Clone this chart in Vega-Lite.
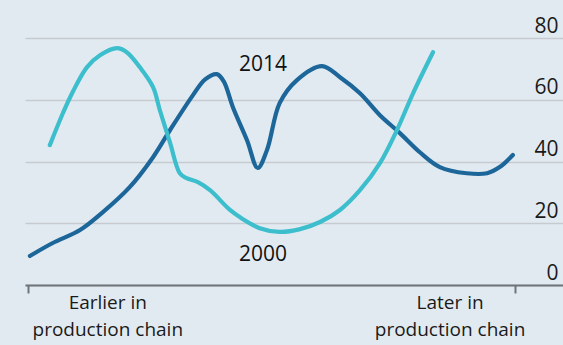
{
  "$schema": "https://vega.github.io/schema/vega-lite/v6.json",
  "width": 538,
  "height": 247,
  "autosize": "none",
  "padding": {"left": 25, "top": 38, "right": 0, "bottom": 60},
  "background": "#e2eaf1",
  "config": {"view": {"stroke": null}, "font": "Open Sans"},
  "datasets": {
    "lines": [
      {"series": "2014", "x": 0.4, "y": 9.4},
      {"series": "2014", "x": 5.1, "y": 13.6},
      {"series": "2014", "x": 10.7, "y": 17.8},
      {"series": "2014", "x": 15.4, "y": 23.6},
      {"series": "2014", "x": 20.9, "y": 31.7},
      {"series": "2014", "x": 25.7, "y": 41.4},
      {"series": "2014", "x": 29.2, "y": 50.2},
      {"series": "2014", "x": 33.9, "y": 61.5},
      {"series": "2014", "x": 36.4, "y": 66.6},
      {"series": "2014", "x": 38.8, "y": 68.3},
      {"series": "2014", "x": 40.2, "y": 66.0},
      {"series": "2014", "x": 42.1, "y": 57.6},
      {"series": "2014", "x": 45.0, "y": 46.9},
      {"series": "2014", "x": 47.2, "y": 37.9},
      {"series": "2014", "x": 49.1, "y": 43.7},
      {"series": "2014", "x": 51.7, "y": 58.9},
      {"series": "2014", "x": 55.2, "y": 66.3},
      {"series": "2014", "x": 60.4, "y": 70.9},
      {"series": "2014", "x": 64.1, "y": 67.3},
      {"series": "2014", "x": 68.2, "y": 62.1},
      {"series": "2014", "x": 72.3, "y": 55.0},
      {"series": "2014", "x": 76.4, "y": 49.2},
      {"series": "2014", "x": 80.5, "y": 43.0},
      {"series": "2014", "x": 84.6, "y": 38.2},
      {"series": "2014", "x": 90.1, "y": 36.2},
      {"series": "2014", "x": 94.3, "y": 36.2},
      {"series": "2014", "x": 96.9, "y": 38.2},
      {"series": "2014", "x": 99.6, "y": 42.1},
      {"series": "2000", "x": 4.5, "y": 45.3},
      {"series": "2000", "x": 7.2, "y": 55.7},
      {"series": "2000", "x": 9.2, "y": 62.5},
      {"series": "2000", "x": 12.1, "y": 70.5},
      {"series": "2000", "x": 14.8, "y": 74.4},
      {"series": "2000", "x": 18.3, "y": 76.7},
      {"series": "2000", "x": 20.3, "y": 75.4},
      {"series": "2000", "x": 23.0, "y": 70.5},
      {"series": "2000", "x": 25.7, "y": 64.1},
      {"series": "2000", "x": 27.1, "y": 56.6},
      {"series": "2000", "x": 29.2, "y": 46.0},
      {"series": "2000", "x": 31.2, "y": 36.2},
      {"series": "2000", "x": 32.6, "y": 34.6},
      {"series": "2000", "x": 34.9, "y": 33.3},
      {"series": "2000", "x": 37.4, "y": 30.7},
      {"series": "2000", "x": 41.5, "y": 24.3},
      {"series": "2000", "x": 43.5, "y": 22.0},
      {"series": "2000", "x": 47.6, "y": 18.4},
      {"series": "2000", "x": 51.7, "y": 17.2},
      {"series": "2000", "x": 55.9, "y": 18.1},
      {"series": "2000", "x": 60.0, "y": 20.4},
      {"series": "2000", "x": 64.1, "y": 24.3},
      {"series": "2000", "x": 68.2, "y": 30.7},
      {"series": "2000", "x": 72.3, "y": 39.5},
      {"series": "2000", "x": 75.8, "y": 50.2},
      {"series": "2000", "x": 79.1, "y": 62.1},
      {"series": "2000", "x": 83.2, "y": 75.4}
    ],
    "labels": [
      {"label": "2014", "x": 48.3, "y": 71.2},
      {"label": "2000", "x": 48.3, "y": 9.7}
    ],
    "xlabels": [
      {"line1": "Earlier in", "line2": "production chain", "x": 16.4},
      {"line1": "Later in", "line2": "production chain", "x": 86.7}
    ]
  },
  "layer": [
    {
      "data": {"name": "lines"},
      "mark": {"type": "line", "interpolate": "catmull-rom", "strokeWidth": 4.2, "strokeCap": "round", "strokeJoin": "round"},
      "encoding": {
        "x": {
          "field": "x", "type": "quantitative",
          "scale": {"domain": [-0.6, 109.9], "nice": false, "zero": false},
          "axis": {
            "values": [0, 100], "labels": false, "grid": false, "title": null,
            "domain": true, "domainColor": "#6f7479", "domainWidth": 2,
            "ticks": true, "tickColor": "#6f7479", "tickWidth": 2, "tickSize": 8
          }
        },
        "y": {
          "field": "y", "type": "quantitative",
          "scale": {"domain": [0, 80], "nice": false},
          "axis": {
            "orient": "right", "values": [0, 20, 40, 60, 80], "title": null,
            "domain": false, "ticks": false,
            "grid": true, "gridColor": "#c5cbd0", "gridWidth": 1.5,
            "labelFontSize": 21, "labelColor": "#1a1a1a", "labelFont": "Open Sans",
            "labelAlign": "right", "labelBaseline": "alphabetic",
            "labelPadding": -5, "labelOffset": -6
          }
        },
        "color": {
          "field": "series", "type": "nominal",
          "scale": {"domain": ["2014", "2000"], "range": ["#1c6699", "#3cbecd"]},
          "legend": null
        },
        "detail": {"field": "series"}
      }
    },
    {
      "data": {"name": "labels"},
      "mark": {"type": "text", "fontSize": 21, "color": "#111111", "align": "center", "baseline": "middle", "font": "Open Sans"},
      "encoding": {
        "x": {"field": "x", "type": "quantitative"},
        "y": {"field": "y", "type": "quantitative"},
        "text": {"field": "label"}
      }
    },
    {
      "data": {"name": "xlabels"},
      "mark": {"type": "text", "fontSize": 19, "color": "#1a1a1a", "align": "center", "baseline": "middle", "dy": 18, "font": "Open Sans"},
      "encoding": {
        "x": {"field": "x", "type": "quantitative"},
        "y": {"datum": 0},
        "text": {"field": "line1"}
      }
    },
    {
      "data": {"name": "xlabels"},
      "mark": {"type": "text", "fontSize": 19, "color": "#1a1a1a", "align": "center", "baseline": "middle", "dy": 45, "font": "Open Sans"},
      "encoding": {
        "x": {"field": "x", "type": "quantitative"},
        "y": {"datum": 0},
        "text": {"field": "line2"}
      }
    }
  ]
}
